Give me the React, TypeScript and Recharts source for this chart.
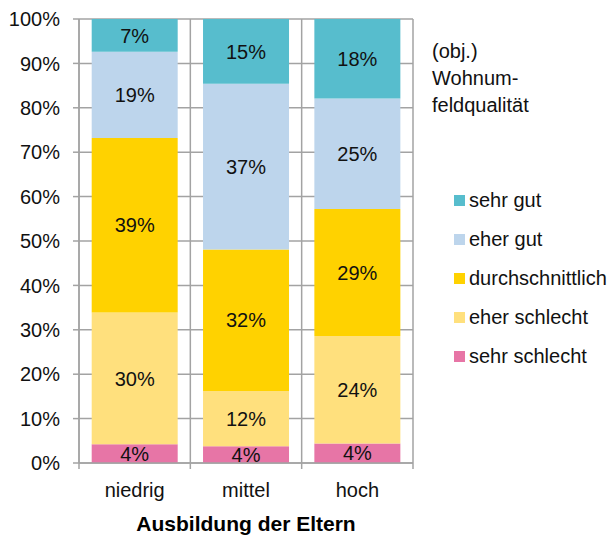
import React from "react";
import { BarChart, Bar, XAxis, YAxis, CartesianGrid, Legend, LabelList } from "recharts";

const categories = ["niedrig", "mittel", "hoch"];

const sehrSchlecht = [4.2, 3.8, 4.4];
const eherSchlecht = [29.7, 12.4, 24.2];
const durchschnittlich = [39.3, 31.9, 28.6];
const eherGut = [19.4, 37.3, 24.9];
const sehrGut = [7.4, 14.6, 17.9];

const yTicks = [0, 10, 20, 30, 40, 50, 60, 70, 80, 90, 100];

const legendTitle = ["(obj.)", "Wohnum-", "feldqualität"];

const series = [
  { key: "sehrSchlecht", name: "sehr schlecht", color: "#E775A6", values: sehrSchlecht },
  { key: "eherSchlecht", name: "eher schlecht", color: "#FFE07D", values: eherSchlecht },
  { key: "durchschnittlich", name: "durchschnittlich", color: "#FFD200", values: durchschnittlich },
  { key: "eherGut", name: "eher gut", color: "#BDD5EC", values: eherGut },
  { key: "sehrGut", name: "sehr gut", color: "#57BDCD", values: sehrGut },
];

const data = categories.map((cat, i) => {
  const row: Record<string, string | number> = { cat };
  series.forEach((s) => {
    row[s.key] = s.values[i];
  });
  return row;
});

const W = 616;
const H = 537;
const MARGIN = { top: 19, right: 203, bottom: 0, left: 0 };
const Y_AXIS_W = 79;
const X_AXIS_H = 74;
const PLOT_W = W - MARGIN.left - MARGIN.right - Y_AXIS_W;
const PLOT_BOTTOM = H - X_AXIS_H;
const BAND = PLOT_W / categories.length;
const GRID = "#a3a3a3";
const FONT = "'Liberation Sans', Arial, sans-serif";

const CategoryTick = (props: any) => {
  const { x, payload, index } = props;
  return (
    <g>
      <line x1={x - BAND / 2} x2={x - BAND / 2} y1={PLOT_BOTTOM} y2={PLOT_BOTTOM + 6} stroke={GRID} strokeWidth={1.5} />
      {index === categories.length - 1 && (
        <line x1={x + BAND / 2} x2={x + BAND / 2} y1={PLOT_BOTTOM} y2={PLOT_BOTTOM + 6} stroke={GRID} strokeWidth={1.5} />
      )}
      <text x={x} y={PLOT_BOTTOM + 34} textAnchor="middle" fontSize={20} fill="#111" fontFamily={FONT}>
        {payload.value}
      </text>
    </g>
  );
};

const renderLegend = () => (
  <div style={{ position: "relative", width: W, height: H, fontFamily: FONT, color: "#111" }}>
    <div style={{ position: "absolute", left: 432, top: 38, fontSize: 20, lineHeight: "27px" }}>
      {legendTitle.map((t) => (
        <div key={t}>{t}</div>
      ))}
    </div>
    <div style={{ position: "absolute", left: 454, top: 181 }}>
      {[...series].reverse().map((s) => (
        <div key={s.key} style={{ display: "flex", alignItems: "center", height: 39, fontSize: 20 }}>
          <span style={{ display: "inline-block", width: 11, height: 11, background: s.color, marginRight: 4 }} />
          <span>{s.name}</span>
        </div>
      ))}
    </div>
  </div>
);

export default function App() {
  return (
    <div style={{ position: "absolute", left: 0, top: 0, width: W, height: H, background: "#fff" }}>
      <BarChart width={W} height={H} data={data} margin={MARGIN} barCategoryGap="11.4%">
        <CartesianGrid
          stroke={GRID}
          strokeWidth={1.5}
          verticalCoordinatesGenerator={({ offset }: any) =>
            [0, 1, 2, 3].map((i) => offset.left + (i * offset.width) / categories.length)
          }
        />
        <XAxis
          dataKey="cat"
          height={X_AXIS_H}
          axisLine={{ stroke: GRID, strokeWidth: 1.5 }}
          tickLine={false}
          tick={<CategoryTick />}
          interval={0}
          label={{
            value: "Ausbildung der Eltern",
            position: "insideBottom",
            offset: 6,
            style: { fontSize: 21, fontWeight: "bold", fill: "#000", fontFamily: FONT },
          }}
        />
        <YAxis
          width={Y_AXIS_W}
          domain={[0, 100]}
          ticks={yTicks}
          interval={0}
          tickFormatter={(v: number) => `${v}%`}
          axisLine={{ stroke: GRID, strokeWidth: 1.5 }}
          tickLine={{ stroke: GRID, strokeWidth: 1.5 }}
          tickSize={6}
          tickMargin={13}
          tick={{ fontSize: 20, fill: "#111", fontFamily: FONT }}
        />
        <Legend
          content={renderLegend}
          layout="horizontal"
          verticalAlign="middle"
          align="center"
          wrapperStyle={{ position: "absolute", left: 0, top: 0, width: W, height: H, pointerEvents: "none" }}
        />
        {series.map((s) => (
          <Bar key={s.key} dataKey={s.key} name={s.name} stackId="a" fill={s.color} isAnimationActive={false}>
            <LabelList
              dataKey={s.key}
              position="center"
              formatter={(v: any) => `${Math.round(Number(v))}%`}
              style={{ fontSize: 20, fill: "#111", fontFamily: FONT }}
            />
          </Bar>
        ))}
      </BarChart>
    </div>
  );
}
